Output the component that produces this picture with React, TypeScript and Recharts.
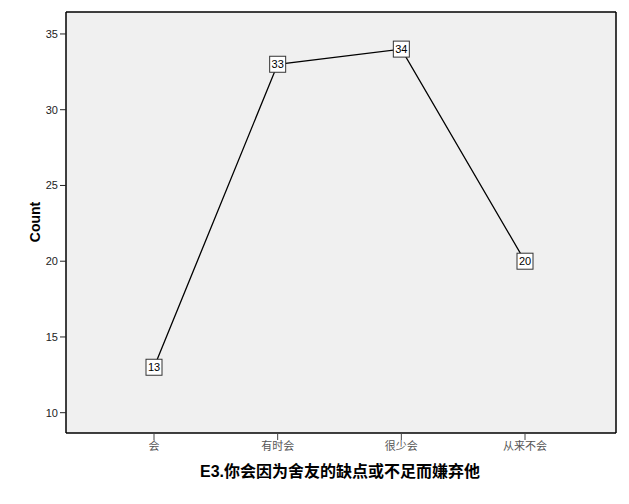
import React from 'react';
import { LineChart, Line, XAxis, YAxis, CartesianGrid, Label } from 'recharts';

const categories = ['会', '有时会', '很少会', '从来不会'];
const counts = [13, 33, 34, 20];
const yTicks = [10, 15, 20, 25, 30, 35];

const data = categories.map((name, i) => ({ name, count: counts[i] }));

const BoxDot = (props: any) => {
  const { cx, cy, value, index } = props;
  if (cx == null || cy == null) return null;
  return (
    <g key={`dot-${index}`}>
      <rect x={cx - 8} y={cy - 8} width={16} height={16} fill="#ffffff" stroke="#333" strokeWidth={1} />
      <text x={cx} y={cy + 4} textAnchor="middle" fontSize={11} fontFamily="Arial, 'Liberation Sans', sans-serif" fill="#000">
        {value}
      </text>
    </g>
  );
};

export default function App() {
  return (
    <div style={{ position: 'absolute', left: 0, top: 0, width: 629, height: 504, background: '#fff' }}>
      <LineChart width={629} height={504} data={data} margin={{ top: 11, right: 12, left: 0, bottom: 0 }}>
        <CartesianGrid fill="#f0f0f0" horizontal={false} vertical={false} />
        <XAxis
          dataKey="name"
          height={71}
          padding={{ left: 88, right: 91 }}
          axisLine={{ stroke: '#000', strokeWidth: 1.5 }}
          tickLine={{ stroke: '#444' }}
          tickSize={7}
          tick={{ fontSize: 11, fill: '#555', fontFamily: "'Noto Sans CJK SC', sans-serif" }}
          interval={0}
        >
          <Label
            content={() => (
              <text x={340} y={477} textAnchor="middle" fontSize={16} fontWeight="bold" fontFamily="Arial, 'Noto Sans CJK SC', sans-serif" fill="#000">
                E3.你会因为舍友的缺点或不足而嫌弃他
              </text>
            )}
          />
        </XAxis>
        <XAxis
          xAxisId="top"
          dataKey="name"
          orientation="top"
          height={1}
          tick={false}
          tickLine={false}
          axisLine={{ stroke: '#000', strokeWidth: 1.5 }}
        />
        <YAxis
          width={66}
          domain={[8.66, 36.45]}
          ticks={yTicks}
          allowDataOverflow
          axisLine={{ stroke: '#000', strokeWidth: 1.5 }}
          tickLine={{ stroke: '#222' }}
          tickSize={6}
          tick={{ fontSize: 11, fill: '#222', fontFamily: "Arial, 'Liberation Sans', sans-serif" }}
        >
          <Label
            content={() => (
              <text x={40} y={222} transform="rotate(-90 40 222)" textAnchor="middle" fontSize={14} fontWeight="bold" fontFamily="Arial, 'Liberation Sans', sans-serif" fill="#000">
                Count
              </text>
            )}
          />
        </YAxis>
        <YAxis
          yAxisId="right"
          orientation="right"
          type="number"
          domain={[0, 1]}
          width={1}
          tick={false}
          tickLine={false}
          axisLine={{ stroke: '#000', strokeWidth: 1.5 }}
        />
        <Line
          type="linear"
          dataKey="count"
          stroke="#000"
          strokeWidth={1.3}
          dot={<BoxDot />}
          activeDot={false}
          isAnimationActive={false}
        />
      </LineChart>
    </div>
  );
}
